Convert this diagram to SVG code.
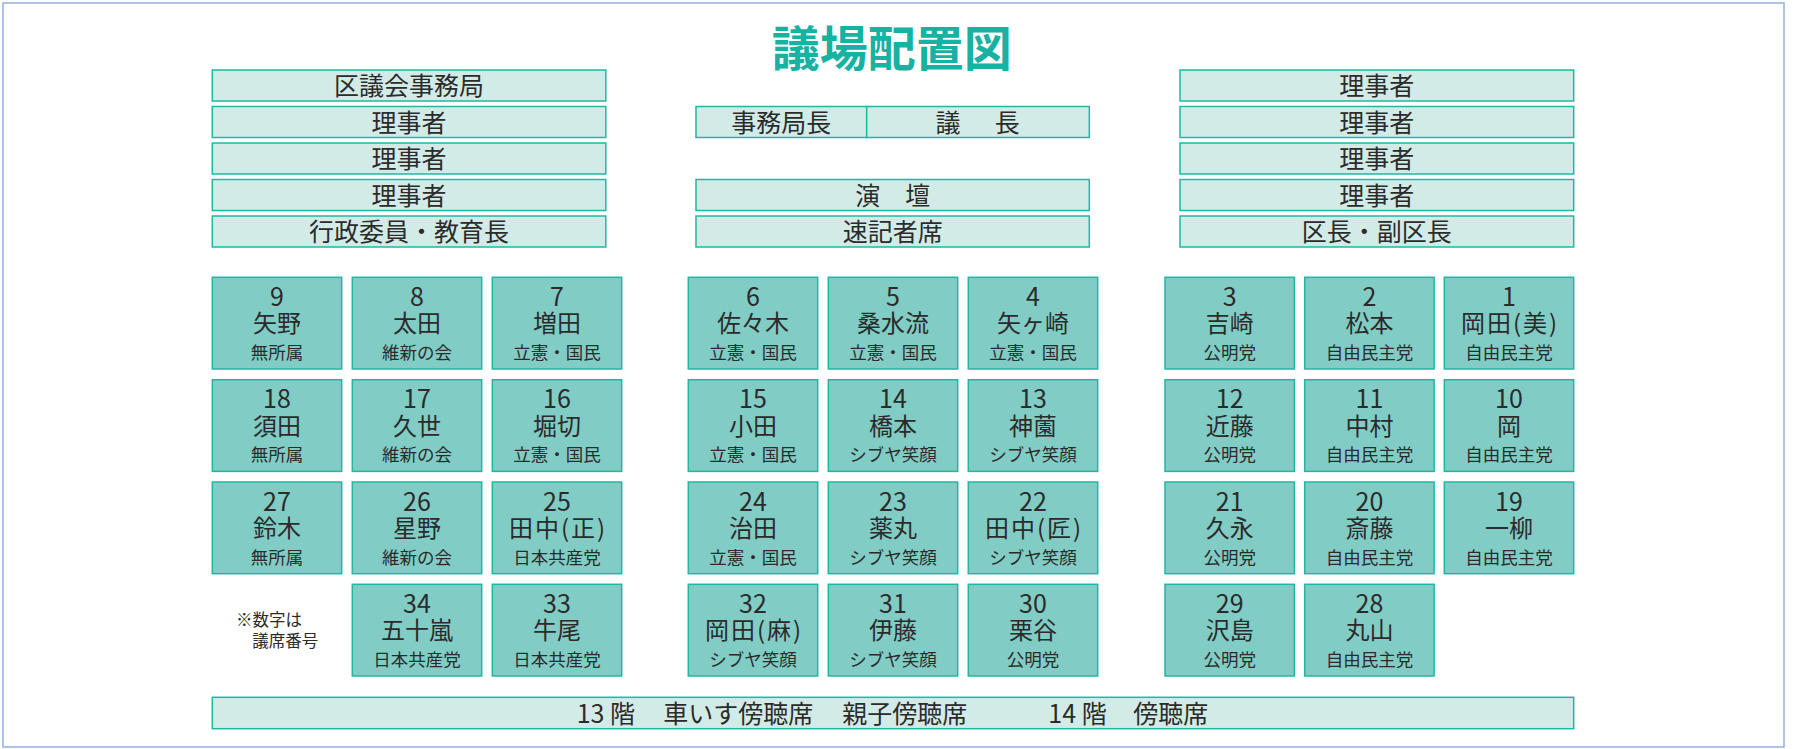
<svg xmlns="http://www.w3.org/2000/svg" width="1795" height="749" viewBox="0 0 1795 749">
<style>
text{font-family:"Noto Sans CJK JP","Noto Sans",sans-serif;fill:#2b2b2b;text-anchor:middle}
.title{font-size:48px;font-weight:700;fill:#17b2a1}
.box{fill:#d3ebe7;stroke:#1cb9a5;stroke-width:1.5}
.seat{fill:#81ccc4;stroke:#1cb9a5;stroke-width:1.5}
.bt{font-size:25px}
.num{font-size:25px}
.nm{font-size:24px}
.nmp{font-size:24px;letter-spacing:2px}
.pt{font-size:17.5px;letter-spacing:0}
.note{font-size:16.5px;text-anchor:start}
</style>
<rect x="0" y="0" width="1795" height="749" fill="#ffffff"/>
<rect x="3" y="3" width="1781" height="744" fill="none" stroke="#8fb3df" stroke-width="1.5"/>
<text class="title" x="891.7" y="65.5">議場配置図</text>

<g id="left-top">
<g id="box-jimukyoku"><rect class="box" x="212.3" y="70" width="393.5" height="31"/><text class="bt" x="409" y="95">区議会事務局</text></g>
<g id="box-riji-l1"><rect class="box" x="212.3" y="106.5" width="393.5" height="31"/><text class="bt" x="409" y="131.5">理事者</text></g>
<g id="box-riji-l2"><rect class="box" x="212.3" y="143" width="393.5" height="31"/><text class="bt" x="409" y="168">理事者</text></g>
<g id="box-riji-l3"><rect class="box" x="212.3" y="179.5" width="393.5" height="31"/><text class="bt" x="409" y="204.5">理事者</text></g>
<g id="box-gyosei"><rect class="box" x="212.3" y="216" width="393.5" height="31"/><text class="bt" x="409" y="241">行政委員・教育長</text></g>
</g>

<g id="middle-top">
<g id="box-jimukyokucho"><rect class="box" x="696" y="106.5" width="170.7" height="31"/><text class="bt" x="781.3" y="131.5">事務局長</text></g>
<g id="box-gicho"><rect class="box" x="866.7" y="106.5" width="222.6" height="31"/><text class="bt" x="980" y="131.5" letter-spacing="4.7">議　長</text></g>
<g id="box-endan"><rect class="box" x="696" y="179.5" width="393.3" height="31"/><text class="bt" x="892.7" y="204.5">演　壇</text></g>
<g id="box-sokki"><rect class="box" x="696" y="216" width="393.3" height="31"/><text class="bt" x="892.7" y="241">速記者席</text></g>
</g>

<g id="right-top">
<g id="box-riji-r1"><rect class="box" x="1180" y="70" width="393.7" height="31"/><text class="bt" x="1376.8" y="95">理事者</text></g>
<g id="box-riji-r2"><rect class="box" x="1180" y="106.5" width="393.7" height="31"/><text class="bt" x="1376.8" y="131.5">理事者</text></g>
<g id="box-riji-r3"><rect class="box" x="1180" y="143" width="393.7" height="31"/><text class="bt" x="1376.8" y="168">理事者</text></g>
<g id="box-riji-r4"><rect class="box" x="1180" y="179.5" width="393.7" height="31"/><text class="bt" x="1376.8" y="204.5">理事者</text></g>
<g id="box-kucho"><rect class="box" x="1180" y="216" width="393.7" height="31"/><text class="bt" x="1376.8" y="241">区長・副区長</text></g>
</g>

<defs>
<rect id="s" class="seat" x="0" y="0" width="129.4" height="91.7"/>
</defs>

<g id="seats">
<g id="seat-9" transform="translate(212.3,277.3)"><use href="#s"/><text x="64.7"><tspan class="num" x="64.7" y="28.6">9</tspan><tspan class="nm" x="64.7" y="55.2">矢野</tspan><tspan class="pt" x="64.7" y="81.8">無所属</tspan></text></g>
<g id="seat-8" transform="translate(352.3,277.3)"><use href="#s"/><text x="64.7"><tspan class="num" x="64.7" y="28.6">8</tspan><tspan class="nm" x="64.7" y="55.2">太田</tspan><tspan class="pt" x="64.7" y="81.8">維新の会</tspan></text></g>
<g id="seat-7" transform="translate(492.3,277.3)"><use href="#s"/><text x="64.7"><tspan class="num" x="64.7" y="28.6">7</tspan><tspan class="nm" x="64.7" y="55.2">増田</tspan><tspan class="pt" x="64.7" y="81.8">立憲・国民</tspan></text></g>
<g id="seat-6" transform="translate(688.3,277.3)"><use href="#s"/><text x="64.7"><tspan class="num" x="64.7" y="28.6">6</tspan><tspan class="nm" x="64.7" y="55.2">佐々木</tspan><tspan class="pt" x="64.7" y="81.8">立憲・国民</tspan></text></g>
<g id="seat-5" transform="translate(828.3,277.3)"><use href="#s"/><text x="64.7"><tspan class="num" x="64.7" y="28.6">5</tspan><tspan class="nm" x="64.7" y="55.2">桑水流</tspan><tspan class="pt" x="64.7" y="81.8">立憲・国民</tspan></text></g>
<g id="seat-4" transform="translate(968.3,277.3)"><use href="#s"/><text x="64.7"><tspan class="num" x="64.7" y="28.6">4</tspan><tspan class="nm" x="64.7" y="55.2">矢ヶ崎</tspan><tspan class="pt" x="64.7" y="81.8">立憲・国民</tspan></text></g>
<g id="seat-3" transform="translate(1165,277.3)"><use href="#s"/><text x="64.7"><tspan class="num" x="64.7" y="28.6">3</tspan><tspan class="nm" x="64.7" y="55.2">吉崎</tspan><tspan class="pt" x="64.7" y="81.8">公明党</tspan></text></g>
<g id="seat-2" transform="translate(1304.7,277.3)"><use href="#s"/><text x="64.7"><tspan class="num" x="64.7" y="28.6">2</tspan><tspan class="nm" x="64.7" y="55.2">松本</tspan><tspan class="pt" x="64.7" y="81.8">自由民主党</tspan></text></g>
<g id="seat-1" transform="translate(1444.3,277.3)"><use href="#s"/><text x="64.7"><tspan class="num" x="64.7" y="28.6">1</tspan><tspan class="nmp" x="65.7" y="55.2">岡田(美)</tspan><tspan class="pt" x="64.7" y="81.8">自由民主党</tspan></text></g>

<g id="seat-18" transform="translate(212.3,379.7)"><use href="#s"/><text x="64.7"><tspan class="num" x="64.7" y="28.6">18</tspan><tspan class="nm" x="64.7" y="55.2">須田</tspan><tspan class="pt" x="64.7" y="81.8">無所属</tspan></text></g>
<g id="seat-17" transform="translate(352.3,379.7)"><use href="#s"/><text x="64.7"><tspan class="num" x="64.7" y="28.6">17</tspan><tspan class="nm" x="64.7" y="55.2">久世</tspan><tspan class="pt" x="64.7" y="81.8">維新の会</tspan></text></g>
<g id="seat-16" transform="translate(492.3,379.7)"><use href="#s"/><text x="64.7"><tspan class="num" x="64.7" y="28.6">16</tspan><tspan class="nm" x="64.7" y="55.2">堀切</tspan><tspan class="pt" x="64.7" y="81.8">立憲・国民</tspan></text></g>
<g id="seat-15" transform="translate(688.3,379.7)"><use href="#s"/><text x="64.7"><tspan class="num" x="64.7" y="28.6">15</tspan><tspan class="nm" x="64.7" y="55.2">小田</tspan><tspan class="pt" x="64.7" y="81.8">立憲・国民</tspan></text></g>
<g id="seat-14" transform="translate(828.3,379.7)"><use href="#s"/><text x="64.7"><tspan class="num" x="64.7" y="28.6">14</tspan><tspan class="nm" x="64.7" y="55.2">橋本</tspan><tspan class="pt" x="64.7" y="81.8">シブヤ笑顔</tspan></text></g>
<g id="seat-13" transform="translate(968.3,379.7)"><use href="#s"/><text x="64.7"><tspan class="num" x="64.7" y="28.6">13</tspan><tspan class="nm" x="64.7" y="55.2">神薗</tspan><tspan class="pt" x="64.7" y="81.8">シブヤ笑顔</tspan></text></g>
<g id="seat-12" transform="translate(1165,379.7)"><use href="#s"/><text x="64.7"><tspan class="num" x="64.7" y="28.6">12</tspan><tspan class="nm" x="64.7" y="55.2">近藤</tspan><tspan class="pt" x="64.7" y="81.8">公明党</tspan></text></g>
<g id="seat-11" transform="translate(1304.7,379.7)"><use href="#s"/><text x="64.7"><tspan class="num" x="64.7" y="28.6">11</tspan><tspan class="nm" x="64.7" y="55.2">中村</tspan><tspan class="pt" x="64.7" y="81.8">自由民主党</tspan></text></g>
<g id="seat-10" transform="translate(1444.3,379.7)"><use href="#s"/><text x="64.7"><tspan class="num" x="64.7" y="28.6">10</tspan><tspan class="nm" x="64.7" y="55.2">岡</tspan><tspan class="pt" x="64.7" y="81.8">自由民主党</tspan></text></g>

<g id="seat-27" transform="translate(212.3,482)"><use href="#s"/><text x="64.7"><tspan class="num" x="64.7" y="28.6">27</tspan><tspan class="nm" x="64.7" y="55.2">鈴木</tspan><tspan class="pt" x="64.7" y="81.8">無所属</tspan></text></g>
<g id="seat-26" transform="translate(352.3,482)"><use href="#s"/><text x="64.7"><tspan class="num" x="64.7" y="28.6">26</tspan><tspan class="nm" x="64.7" y="55.2">星野</tspan><tspan class="pt" x="64.7" y="81.8">維新の会</tspan></text></g>
<g id="seat-25" transform="translate(492.3,482)"><use href="#s"/><text x="64.7"><tspan class="num" x="64.7" y="28.6">25</tspan><tspan class="nmp" x="65.7" y="55.2">田中(正)</tspan><tspan class="pt" x="64.7" y="81.8">日本共産党</tspan></text></g>
<g id="seat-24" transform="translate(688.3,482)"><use href="#s"/><text x="64.7"><tspan class="num" x="64.7" y="28.6">24</tspan><tspan class="nm" x="64.7" y="55.2">治田</tspan><tspan class="pt" x="64.7" y="81.8">立憲・国民</tspan></text></g>
<g id="seat-23" transform="translate(828.3,482)"><use href="#s"/><text x="64.7"><tspan class="num" x="64.7" y="28.6">23</tspan><tspan class="nm" x="64.7" y="55.2">薬丸</tspan><tspan class="pt" x="64.7" y="81.8">シブヤ笑顔</tspan></text></g>
<g id="seat-22" transform="translate(968.3,482)"><use href="#s"/><text x="64.7"><tspan class="num" x="64.7" y="28.6">22</tspan><tspan class="nmp" x="65.7" y="55.2">田中(匠)</tspan><tspan class="pt" x="64.7" y="81.8">シブヤ笑顔</tspan></text></g>
<g id="seat-21" transform="translate(1165,482)"><use href="#s"/><text x="64.7"><tspan class="num" x="64.7" y="28.6">21</tspan><tspan class="nm" x="64.7" y="55.2">久永</tspan><tspan class="pt" x="64.7" y="81.8">公明党</tspan></text></g>
<g id="seat-20" transform="translate(1304.7,482)"><use href="#s"/><text x="64.7"><tspan class="num" x="64.7" y="28.6">20</tspan><tspan class="nm" x="64.7" y="55.2">斎藤</tspan><tspan class="pt" x="64.7" y="81.8">自由民主党</tspan></text></g>
<g id="seat-19" transform="translate(1444.3,482)"><use href="#s"/><text x="64.7"><tspan class="num" x="64.7" y="28.6">19</tspan><tspan class="nm" x="64.7" y="55.2">一柳</tspan><tspan class="pt" x="64.7" y="81.8">自由民主党</tspan></text></g>

<g id="seat-34" transform="translate(352.3,584.3)"><use href="#s"/><text x="64.7"><tspan class="num" x="64.7" y="28.6">34</tspan><tspan class="nm" x="64.7" y="55.2">五十嵐</tspan><tspan class="pt" x="64.7" y="81.8">日本共産党</tspan></text></g>
<g id="seat-33" transform="translate(492.3,584.3)"><use href="#s"/><text x="64.7"><tspan class="num" x="64.7" y="28.6">33</tspan><tspan class="nm" x="64.7" y="55.2">牛尾</tspan><tspan class="pt" x="64.7" y="81.8">日本共産党</tspan></text></g>
<g id="seat-32" transform="translate(688.3,584.3)"><use href="#s"/><text x="64.7"><tspan class="num" x="64.7" y="28.6">32</tspan><tspan class="nmp" x="65.7" y="55.2">岡田(麻)</tspan><tspan class="pt" x="64.7" y="81.8">シブヤ笑顔</tspan></text></g>
<g id="seat-31" transform="translate(828.3,584.3)"><use href="#s"/><text x="64.7"><tspan class="num" x="64.7" y="28.6">31</tspan><tspan class="nm" x="64.7" y="55.2">伊藤</tspan><tspan class="pt" x="64.7" y="81.8">シブヤ笑顔</tspan></text></g>
<g id="seat-30" transform="translate(968.3,584.3)"><use href="#s"/><text x="64.7"><tspan class="num" x="64.7" y="28.6">30</tspan><tspan class="nm" x="64.7" y="55.2">栗谷</tspan><tspan class="pt" x="64.7" y="81.8">公明党</tspan></text></g>
<g id="seat-29" transform="translate(1165,584.3)"><use href="#s"/><text x="64.7"><tspan class="num" x="64.7" y="28.6">29</tspan><tspan class="nm" x="64.7" y="55.2">沢島</tspan><tspan class="pt" x="64.7" y="81.8">公明党</tspan></text></g>
<g id="seat-28" transform="translate(1304.7,584.3)"><use href="#s"/><text x="64.7"><tspan class="num" x="64.7" y="28.6">28</tspan><tspan class="nm" x="64.7" y="55.2">丸山</tspan><tspan class="pt" x="64.7" y="81.8">自由民主党</tspan></text></g>
</g>

<g id="note">
<text class="note" x="236"><tspan x="236" y="626">※数字は</tspan><tspan x="252.3" y="647.3">議席番号</tspan></text>
</g>

<g id="gallery">
<rect class="box" x="212.3" y="697.3" width="1361.4" height="31.4"/>
<text class="bt" style="text-anchor:start" y="723.3"><tspan x="576.7">13 階</tspan><tspan x="663.3">車いす傍聴席</tspan><tspan x="842.3">親子傍聴席</tspan><tspan x="1048.3">14 階</tspan><tspan x="1133.3">傍聴席</tspan></text>
</g>

<g id="connectors"></g>
</svg>
